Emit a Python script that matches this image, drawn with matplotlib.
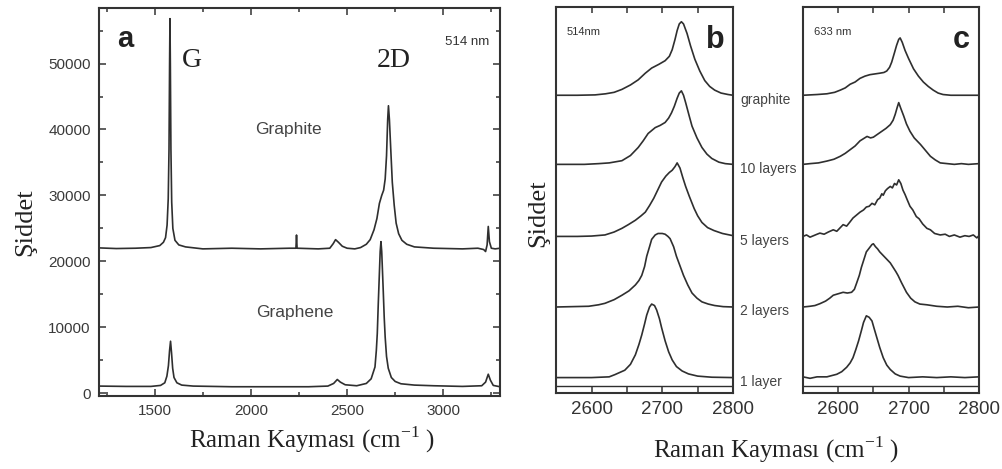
import numpy as np
import matplotlib
matplotlib.use("Agg")
import matplotlib.pyplot as plt
from matplotlib.ticker import MultipleLocator, NullLocator

SANS = "Liberation Sans"
SERIF = "Liberation Serif"
INK = "#2f2f2f"

# --- panel a: full spectra, 514 nm ---
graphite_x = [1210, 1300, 1400, 1480, 1526, 1545, 1556, 1564, 1570, 1574, 1577, 1579, 1581,
              1584, 1588, 1594, 1605, 1625, 1660, 1750, 1900, 2050, 2200, 2234, 2237, 2240,
              2350, 2410, 2428, 2440, 2455, 2475, 2500, 2540, 2570, 2600, 2620, 2640, 2655,
              2668, 2680, 2690, 2698, 2705, 2711, 2715, 2720, 2727, 2735, 2745, 2755, 2768,
              2785, 2810, 2850, 2950, 3100, 3180, 3210, 3220, 3228, 3234, 3240, 3250, 3270, 3295]
graphite_y = [22050, 21950, 22000, 22100, 22400, 22900, 23600, 25500, 29500, 37000, 50000, 56800, 50000,
              37000, 29000, 25000, 23200, 22500, 22200, 21900, 22000, 21900, 22000, 22000, 24000, 22000,
              21900, 22000, 22700, 23300, 22900, 22300, 22000, 21900, 22100, 22600, 23300, 24800, 26500,
              28800, 30000, 30800, 32500, 36000, 41500, 43600, 41500, 37000, 32000, 28500, 25800, 24200,
              23200, 22600, 22200, 22000, 21900, 22000, 21800, 21500, 22500, 25300, 23000, 22000, 21900, 22000]

graphene_x = [1210, 1350, 1480, 1530, 1552, 1563, 1571, 1577, 1582, 1587, 1593, 1600, 1615,
              1640, 1700, 1900, 2100, 2300, 2400, 2430, 2449, 2465, 2490, 2550, 2600, 2625,
              2645, 2652, 2657, 2662, 2667, 2672, 2676, 2680, 2684, 2688, 2693, 2698, 2705,
              2714, 2730, 2750, 2780, 2850, 2950, 3100, 3200, 3220, 3234, 3245, 3260, 3295]
graphene_y = [1100, 1050, 1050, 1200, 1600, 2600, 4200, 6500, 7900, 6200, 3800, 2400, 1600,
              1250, 1100, 1000, 1000, 1000, 1100, 1500, 2100, 1700, 1300, 1150, 1500, 2200,
              4000, 6500, 9100, 13500, 17500, 21500, 23000, 21500, 18500, 15500, 11500, 8500, 5600,
              3800, 2400, 1800, 1450, 1250, 1150, 1050, 1150, 1700, 2900, 2000, 1200, 1000]

# --- panels b and c: 2D band vs number of layers (normalised, stacked) ---
layer_names = ["1 layer", "2 layers", "5 layers", "10 layers", "graphite"]
layer_offsets = [0.0, 0.96, 1.92, 2.90, 3.84]

b_1l_x = [2550, 2600, 2625, 2633, 2640, 2647, 2655, 2662, 2667, 2671, 2675, 2678, 2682, 2685,
          2689, 2692, 2696, 2699, 2704, 2709, 2714, 2720, 2728, 2737, 2750, 2770, 2800]
b_1l_y = [0, 0, 0.01, 0.04, 0.07, 0.10, 0.18, 0.31, 0.45, 0.58, 0.73, 0.85, 0.96, 1.0,
          0.98, 0.92, 0.80, 0.68, 0.50, 0.35, 0.24, 0.15, 0.09, 0.05, 0.02, 0.005, 0]
b_2l_x = [2550, 2596, 2610, 2619, 2632, 2643, 2653, 2662, 2667, 2671, 2675, 2678, 2682, 2685,
          2690, 2694, 2700, 2704, 2708, 2711, 2716, 2720, 2725, 2730, 2736, 2742, 2749, 2756,
          2765, 2774, 2786, 2800]
b_2l_y = [0, 0.01, 0.03, 0.05, 0.10, 0.16, 0.22, 0.30, 0.36, 0.43, 0.55, 0.69, 0.82, 0.92,
          0.98, 1.0, 1.0, 0.99, 0.96, 0.93, 0.82, 0.69, 0.56, 0.43, 0.30, 0.19, 0.12, 0.07,
          0.04, 0.02, 0.005, 0]
b_5l_x = [2550, 2580, 2600, 2619, 2632, 2643, 2652, 2662, 2670, 2676, 2682, 2688, 2694, 2699,
          2705, 2710, 2714, 2718, 2721, 2725, 2729, 2733, 2738, 2745, 2750, 2756, 2764, 2773,
          2785, 2800]
b_5l_y = [0, 0, 0.005, 0.02, 0.06, 0.11, 0.16, 0.22, 0.28, 0.33, 0.42, 0.52, 0.64, 0.74,
          0.82, 0.87, 0.90, 0.95, 1.0, 0.93, 0.80, 0.68, 0.55, 0.38, 0.28, 0.19, 0.12, 0.08,
          0.04, 0.01]
b_10l_x = [2550, 2590, 2610, 2625, 2643, 2655, 2666, 2673, 2680, 2685, 2690, 2697, 2704, 2709,
           2713, 2717, 2721, 2724, 2727, 2730, 2733, 2738, 2742, 2749, 2756, 2763, 2770, 2780,
           2789, 2800]
b_10l_y = [0, 0, 0.01, 0.02, 0.05, 0.12, 0.23, 0.32, 0.42, 0.46, 0.50, 0.53, 0.57, 0.63,
           0.70, 0.79, 0.90, 0.97, 1.0, 0.94, 0.84, 0.66, 0.52, 0.36, 0.23, 0.14, 0.08, 0.03,
           0.01, 0]
b_gr_x = [2550, 2580, 2605, 2620, 2632, 2643, 2655, 2666, 2676, 2685, 2695, 2704, 2710, 2714,
          2718, 2721, 2724, 2727, 2730, 2735, 2740, 2746, 2753, 2760, 2767, 2774, 2783, 2793, 2800]
b_gr_y = [0, 0, 0.005, 0.02, 0.04, 0.08, 0.14, 0.21, 0.30, 0.37, 0.42, 0.47, 0.53, 0.62,
          0.76, 0.88, 0.97, 1.0, 0.97, 0.84, 0.67, 0.49, 0.33, 0.20, 0.12, 0.07, 0.03, 0.01, 0]

c_1l_x = [2550, 2560, 2570, 2584, 2592, 2598, 2605, 2612, 2617, 2621, 2625, 2629, 2633, 2636,
          2640, 2644, 2648, 2651, 2655, 2659, 2664, 2669, 2674, 2681, 2688, 2700, 2720, 2740,
          2760, 2780, 2800]
c_1l_y = [0.01, -0.01, 0.01, 0.01, 0.03, 0.045, 0.08, 0.14, 0.20, 0.27, 0.38, 0.50, 0.64, 0.75,
          0.84, 0.82, 0.77, 0.67, 0.54, 0.41, 0.27, 0.17, 0.11, 0.05, 0.02, 0.0, 0.01, 0.0,
          0.01, 0.0, 0.01]
c_2l_x = [2550, 2560, 2567, 2574, 2582, 2588, 2593, 2600, 2607, 2613, 2619, 2623, 2626, 2630,
          2633, 2637, 2640, 2644, 2648, 2650, 2653, 2656, 2659, 2663, 2667, 2671, 2674, 2678,
          2682, 2685, 2690, 2697, 2703, 2709, 2716, 2726, 2740, 2755, 2770, 2785, 2800]
c_2l_y = [0, 0.01, 0.02, 0.045, 0.08, 0.12, 0.16, 0.18, 0.20, 0.19, 0.20, 0.24, 0.32, 0.43,
          0.54, 0.66, 0.75, 0.80, 0.85, 0.86, 0.82, 0.79, 0.75, 0.71, 0.67, 0.63, 0.60, 0.54,
          0.48, 0.43, 0.33, 0.20, 0.12, 0.07, 0.04, 0.03, 0.01, 0.0, 0.01, -0.01, 0.0]
c_5l_x = [2550, 2555, 2560, 2565, 2570, 2574, 2580, 2586, 2593, 2598, 2603, 2607, 2612, 2617,
          2621, 2626, 2631, 2636, 2640, 2644, 2648, 2652, 2656, 2659, 2662, 2664, 2667, 2670,
          2674, 2677, 2680, 2683, 2686, 2689, 2692, 2695, 2698, 2702, 2706, 2711, 2715, 2720,
          2726, 2731, 2737, 2745, 2752, 2758, 2765, 2773, 2780, 2786, 2792, 2797, 2800]
c_5l_y = [0.0, 0.02, -0.01, 0.01, 0.03, 0.045, 0.03, 0.06, 0.09, 0.07, 0.12, 0.16, 0.14, 0.20,
          0.25, 0.29, 0.33, 0.36, 0.40, 0.41, 0.45, 0.43, 0.50, 0.52, 0.58, 0.56, 0.62, 0.65,
          0.68, 0.66, 0.72, 0.70, 0.77, 0.72, 0.63, 0.57, 0.50, 0.41, 0.36, 0.27, 0.24, 0.17,
          0.11, 0.09, 0.04, 0.02, 0.03, 0.0, 0.02, -0.01, 0.01, 0.0, 0.02, -0.02, 0.01]
c_10l_x = [2550, 2560, 2572, 2584, 2594, 2603, 2610, 2617, 2624, 2631, 2636, 2641, 2646, 2650,
           2656, 2662, 2668, 2674, 2678, 2681, 2684, 2686, 2689, 2693, 2697, 2702, 2708, 2717,
           2724, 2731, 2738, 2745, 2755, 2765, 2775, 2785, 2800]
c_10l_y = [0, 0.01, 0.02, 0.045, 0.07, 0.11, 0.15, 0.20, 0.25, 0.32, 0.35, 0.38, 0.36, 0.37,
           0.41, 0.45, 0.49, 0.54, 0.60, 0.68, 0.78, 0.84, 0.76, 0.66, 0.55, 0.45, 0.36, 0.27,
           0.19, 0.11, 0.06, 0.02, 0.01, 0.0, 0.01, 0.0, 0.01]
c_gr_x = [2550, 2570, 2584, 2595, 2603, 2610, 2617, 2624, 2631, 2638, 2645, 2652, 2659, 2665,
          2669, 2673, 2676, 2680, 2683, 2686, 2688, 2691, 2695, 2700, 2707, 2714, 2721, 2728,
          2735, 2742, 2749, 2760, 2780, 2800]
c_gr_y = [0, 0.01, 0.02, 0.04, 0.07, 0.10, 0.15, 0.18, 0.23, 0.26, 0.28, 0.29, 0.30, 0.31,
          0.33, 0.38, 0.45, 0.58, 0.68, 0.76, 0.78, 0.72, 0.61, 0.50, 0.36, 0.26, 0.18, 0.12,
          0.07, 0.03, 0.01, 0, 0, 0]

b_curves = [(b_1l_x, b_1l_y), (b_2l_x, b_2l_y), (b_5l_x, b_5l_y), (b_10l_x, b_10l_y), (b_gr_x, b_gr_y)]
c_curves = [(c_1l_x, c_1l_y), (c_2l_x, c_2l_y), (c_5l_x, c_5l_y), (c_10l_x, c_10l_y), (c_gr_x, c_gr_y)]


def style_frame(ax):
    for sp in ax.spines.values():
        sp.set_color("#333333")
        sp.set_linewidth(1.5)


fig = plt.figure(figsize=(10.02, 4.69), dpi=100)

# panel a
ax_a = fig.add_axes([0.0988, 0.1557, 0.4002, 0.827])
ax_a.plot(graphite_x, graphite_y, color=INK, lw=1.2)
ax_a.plot(graphene_x, graphene_y, color=INK, lw=1.2)
ax_a.set_xlim(1210, 3295)
ax_a.set_ylim(-400, 58400)
ax_a.xaxis.set_major_locator(MultipleLocator(500))
ax_a.xaxis.set_minor_locator(MultipleLocator(250))
ax_a.yaxis.set_major_locator(MultipleLocator(10000))
ax_a.yaxis.set_minor_locator(MultipleLocator(5000))
ax_a.tick_params(which="both", direction="in", top=True, right=True, color="#333333", width=1.1)
ax_a.tick_params(which="major", length=5, pad=6, labelsize=11, labelcolor="#3a3a3a")
ax_a.tick_params(which="minor", length=3)
for lab in ax_a.get_xticklabels() + ax_a.get_yticklabels():
    lab.set_fontfamily(SANS)
style_frame(ax_a)

ax_a.text(0.045, 0.92, "a", transform=ax_a.transAxes, fontsize=21, fontweight="bold",
          family=SANS, color="#222222", ha="left", va="center")
ax_a.text(1695, 50500, "G", fontsize=20, family=SERIF, color="#222222", ha="center", va="center")
ax_a.text(2745, 50500, "2D", fontsize=20, family=SERIF, color="#222222", ha="center", va="center")
ax_a.text(3125, 53200, "514 nm", fontsize=9.5, family=SANS, color="#333333", ha="center", va="center")
ax_a.text(2193, 40000, "Graphite", fontsize=12.5, family=SANS, color="#444444", ha="center", va="center")
ax_a.text(2230, 12200, "Graphene", fontsize=12.5, family=SANS, color="#444444", ha="center", va="center")

fig.text(0.025, 0.527, "Şiddet", rotation=90, fontsize=19, family=SERIF, color="#222222",
         ha="center", va="center")
fig.text(0.311, 0.062, "Raman Kayması (cm$^{\\mathregular{-1}}$ )", fontsize=18, family=SERIF,
         color="#222222", ha="center", va="center")

# panels b and c
panels = [
    (fig.add_axes([0.555, 0.162, 0.1766, 0.823]), b_curves, "514nm", "b"),
    (fig.add_axes([0.8014, 0.162, 0.1756, 0.823]), c_curves, "633 nm", "c"),
]
for ax, curves, laser, tag in panels:
    for (x, y), off in zip(curves, layer_offsets):
        ax.plot(x, np.array(y) + off, color=INK, lw=1.2)
    ax.axhline(-0.12, color=INK, lw=1.0)
    ax.set_xlim(2550, 2800)
    ax.set_ylim(-0.21, 5.04)
    ax.xaxis.set_major_locator(MultipleLocator(100))
    ax.xaxis.set_minor_locator(MultipleLocator(50))
    ax.yaxis.set_major_locator(NullLocator())
    ax.tick_params(axis="x", which="both", direction="in", top=True, color="#333333", width=1.1)
    ax.tick_params(axis="x", which="major", length=4, pad=6, labelsize=13.5, labelcolor="#333333")
    ax.tick_params(axis="x", which="minor", length=4)
    for lab in ax.get_xticklabels():
        lab.set_fontfamily(SANS)
    style_frame(ax)
    ax.text(0.06, 0.935, laser, transform=ax.transAxes, fontsize=8, family=SANS,
            color="#333333", ha="left", va="center")
    ax.text(0.9, 0.915, tag, transform=ax.transAxes, fontsize=22, fontweight="bold",
            family=SANS, color="#222222", ha="center", va="center")

ax_b = panels[0][0]
for name, off in zip(layer_names, layer_offsets):
    ax_b.text(1.04, off - 0.06, name, transform=ax_b.get_yaxis_transform(), fontsize=10,
              family=SANS, color="#444444", ha="left", va="center", clip_on=False)

fig.text(0.537, 0.545, "Şiddet", rotation=90, fontsize=19, family=SERIF, color="#222222",
         ha="center", va="center")
fig.text(0.775, 0.042, "Raman Kayması (cm$^{\\mathregular{-1}}$ )", fontsize=18, family=SERIF,
         color="#222222", ha="center", va="center")

fig.savefig("out.png", dpi=100)
